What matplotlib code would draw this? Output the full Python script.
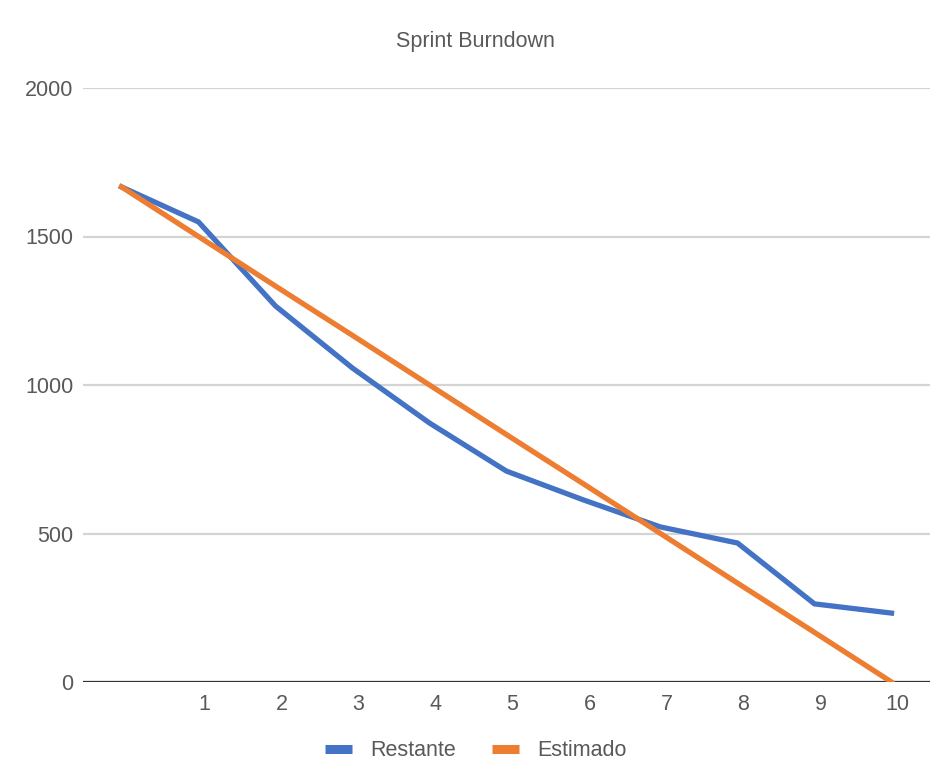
import matplotlib
matplotlib.use("Agg")
import matplotlib.pyplot as plt
import matplotlib.transforms as mtransforms
from matplotlib.lines import Line2D

# sprint days and remaining work
days = [0, 1, 2, 3, 4, 5, 6, 7, 8, 9, 10]
day_labels = ["", "1", "2", "3", "4", "5", "6", "7", "8", "9", "10"]
restante = [1667, 1549, 1266, 1057, 872, 710, 613, 522, 468, 263, 232]
estimado = [1667, 1500, 1333, 1167, 1000, 833, 667, 500, 333, 167, 0]

BLUE = "#4472C4"
ORANGE = "#ED7D31"
TEXT = "#595959"

plt.rcParams["font.family"] = ["Liberation Sans", "DejaVu Sans"]

fig = plt.figure(figsize=(9.46, 7.8), dpi=100)
ax = fig.add_axes([83 / 946, 1 - 682 / 780, (930 - 83) / 946, (682 - 88) / 780])

ax.plot(days, restante, color=BLUE, lw=3.8, solid_joinstyle="miter", zorder=3)
ax.plot(days, estimado, color=ORANGE, lw=3.8, zorder=4)

ax.set_xlim(-0.5, 10.5)
ax.set_ylim(0, 2000)
ax.set_yticks([0, 500, 1000, 1500, 2000])
ax.set_xticks(days)
ax.set_xticklabels(day_labels)

ax.grid(axis="y", color="#d4d4d4", lw=1.6, zorder=0)
ax.axhline(0, color="#333333", lw=1.6, zorder=2)
for side in ["top", "right", "left", "bottom"]:
    ax.spines[side].set_visible(False)
ax.tick_params(axis="both", length=0, labelsize=15.5, labelcolor=TEXT)
ax.tick_params(axis="y", pad=7)
ax.tick_params(axis="x", pad=9)

# labels sit a little right of the data points, like the sheets chart
shift = mtransforms.ScaledTranslation(6 / 100, 0, fig.dpi_scale_trans)
for lbl in ax.get_xticklabels():
    lbl.set_transform(lbl.get_transform() + shift)

fig.text(0.503, 1 - 41 / 780, "Sprint Burndown", ha="center", va="center",
         fontsize=15.5, color=TEXT)

handles = [Line2D([], [], color=BLUE, lw=6.5, solid_capstyle="butt"),
           Line2D([], [], color=ORANGE, lw=6.5, solid_capstyle="butt")]
fig.legend(handles, ["Restante", "Estimado"], loc="center",
           bbox_to_anchor=(0.503, 1 - 751 / 780), ncol=2, frameon=False,
           fontsize=15.5, labelcolor=TEXT, handlelength=1.25,
           handletextpad=0.85, columnspacing=1.65)

fig.savefig("out.png", dpi=100)
